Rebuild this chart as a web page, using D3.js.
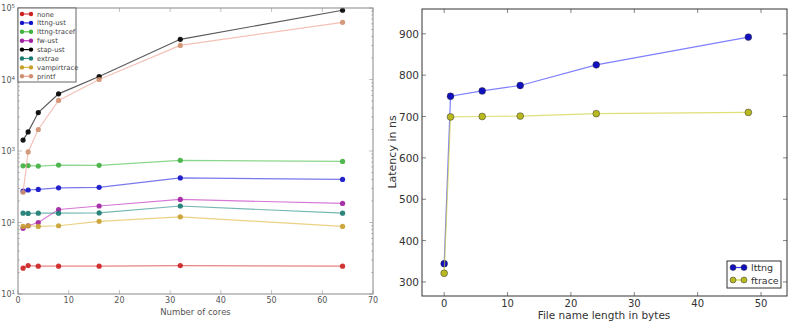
<!DOCTYPE html>
<html>
<head>
<meta charset="utf-8">
<title>Tracer latency</title>
<style>
  body { margin: 0; background: #fff; }
  svg { font-family: "DejaVu Sans", sans-serif; }
  .frame { fill: none; }
  .line { fill: none; stroke-width: 1.2px; stroke-opacity: 0.65; }
</style>
</head>
<body>
<svg width="788" height="322"></svg>
<script src="https://d3js.org/d3.v7.min.js"></script>
<script>
// left chart: latency vs number of cores (log scale)
const cores = [1, 2, 4, 8, 16, 32, 64];
const none = [23, 25, 24.5, 24.5, 24.5, 25, 24.5];
const lttngUst = [275, 285, 290, 305, 310, 420, 400];
const lttngTracef = [620, 625, 615, 635, 630, 740, 715];
const fwUst = [83, 90, 100, 152, 170, 210, 185];
const stapUst = [1420, 1850, 3450, 6300, 11000, 36500, 93000];
const extrae = [135, 134, 135, 135, 136, 170, 135];
const vampirtrace = [88, 90, 88, 90, 104, 120, 88];
const printf = [265, 970, 2000, 5100, 10000, 30000, 63000];
const coreTicks = [0, 10, 20, 30, 40, 50, 60, 70];

// right chart: latency vs file name length
const nameLength = [0, 1, 6, 12, 24, 48];
const lttng = [344, 749, 762, 775, 825, 892];
const ftrace = [321, 699, 700, 701, 707, 710];
const lengthTicks = [0, 10, 20, 30, 40, 50];
const latencyTicks = [300, 400, 500, 600, 700, 800, 900];

const svg = d3.select("svg");

// ---------- left ----------
const L = { x0: 18, x1: 373, y0: 8, y1: 294 };
const xL = d3.scaleLinear().domain([0, 70]).range([L.x0, L.x1]);
const yL = d3.scaleLog().domain([10, 100000]).range([L.y1, L.y0]);

const leftSeries = [
  { name: "none", values: none, color: "#cc2020", line: "#e04040" },
  { name: "lttng-ust", values: lttngUst, color: "#1010c8", line: "#3030e0" },
  { name: "lttng-tracef", values: lttngTracef, color: "#40b040", line: "#50c050" },
  { name: "fw-ust", values: fwUst, color: "#a020a0", line: "#c030c0" },
  { name: "stap-ust", values: stapUst, color: "#000000", line: "#000000" },
  { name: "extrae", values: extrae, color: "#1a7a70", line: "#2a9088" },
  { name: "vampirtrace", values: vampirtrace, color: "#c8a030", line: "#e0b840" },
  { name: "printf", values: printf, color: "#d09070", line: "#f0a090" }
];

const gL = svg.append("g");

// minor log ticks on both sides
const minor = [];
for (let e = 1; e < 5; e++) for (let m = 2; m < 10; m++) minor.push(m * Math.pow(10, e));
gL.selectAll(".minL").data(minor).join("line")
  .attr("x1", L.x0).attr("x2", L.x0 + 2)
  .attr("y1", d => yL(d)).attr("y2", d => yL(d))
  .attr("stroke", "#999").attr("stroke-width", 0.6);
gL.selectAll(".minR").data(minor).join("line")
  .attr("x1", L.x1).attr("x2", L.x1 - 2)
  .attr("y1", d => yL(d)).attr("y2", d => yL(d))
  .attr("stroke", "#999").attr("stroke-width", 0.6);
const major = [10, 100, 1000, 10000, 100000];
gL.selectAll(".majL").data(major).join("line")
  .attr("x1", L.x0).attr("x2", L.x0 + 4)
  .attr("y1", d => yL(d)).attr("y2", d => yL(d))
  .attr("stroke", "#999").attr("stroke-width", 0.6);
gL.selectAll(".majR").data(major).join("line")
  .attr("x1", L.x1).attr("x2", L.x1 - 4)
  .attr("y1", d => yL(d)).attr("y2", d => yL(d))
  .attr("stroke", "#999").attr("stroke-width", 0.6);
gL.selectAll(".xtB").data(coreTicks).join("line")
  .attr("x1", d => xL(d)).attr("x2", d => xL(d))
  .attr("y1", L.y1).attr("y2", L.y1 - 4)
  .attr("stroke", "#999").attr("stroke-width", 0.6);
gL.selectAll(".xtT").data(coreTicks).join("line")
  .attr("x1", d => xL(d)).attr("x2", d => xL(d))
  .attr("y1", L.y0).attr("y2", L.y0 + 4)
  .attr("stroke", "#999").attr("stroke-width", 0.6);

// y tick labels 10^n
const ylab = gL.selectAll(".ylab").data(major).join("text")
  .attr("x", 15).attr("y", d => yL(d) + 3)
  .attr("text-anchor", "end").attr("font-size", 8).attr("fill", "#555");
ylab.append("tspan").text("10");
ylab.append("tspan").attr("dy", -3).attr("font-size", 5.5).text(d => Math.round(Math.log10(d)));

gL.selectAll(".xlab").data(coreTicks).join("text")
  .attr("x", d => xL(d)).attr("y", L.y1 + 9)
  .attr("text-anchor", "middle").attr("font-size", 8).attr("fill", "#555")
  .text(d => d);

gL.append("text").attr("x", (L.x0 + L.x1) / 2).attr("y", 315)
  .attr("text-anchor", "middle").attr("font-size", 8.5).attr("fill", "#555")
  .text("Number of cores");

const lineL = d3.line().x((d, i) => xL(cores[i])).y(d => yL(d));
leftSeries.forEach(s => {
  gL.append("path").attr("class", "line").attr("d", lineL(s.values))
    .attr("stroke", s.line);
  gL.selectAll(null).data(s.values).join("circle")
    .attr("cx", (d, i) => xL(cores[i])).attr("cy", d => yL(d))
    .attr("r", 2.6).attr("fill", s.color).attr("fill-opacity", 0.9);
});

gL.append("rect").attr("class", "frame")
  .attr("x", L.x0).attr("y", L.y0).attr("width", L.x1 - L.x0).attr("height", L.y1 - L.y0)
  .attr("stroke", "#888").attr("stroke-width", 1);

// left legend
const legL = gL.append("g");
legL.append("rect").attr("x", L.x0).attr("y", L.y0).attr("width", 58).attr("height", 74)
  .attr("fill", "#fff").attr("stroke", "#666").attr("stroke-width", 1);
leftSeries.forEach((s, i) => {
  const y = 14 + i * 8.9;
  legL.append("line").attr("x1", 22).attr("x2", 31).attr("y1", y).attr("y2", y)
    .attr("stroke", s.line).attr("stroke-width", 1.2);
  legL.selectAll(null).data([22, 31]).join("circle")
    .attr("cx", d => d).attr("cy", y).attr("r", 2.2).attr("fill", s.color);
  legL.append("text").attr("x", 37).attr("y", y + 2.5).attr("font-size", 6.8)
    .attr("fill", "#444").text(s.name);
});

// ---------- right ----------
const R = { x0: 422, x1: 787, y0: 9, y1: 296 };
const xR = d3.scaleLinear().domain([-3.5, 54.1]).range([R.x0, R.x1]);
const yR = d3.scaleLinear().domain([266, 960]).range([R.y1, R.y0]);
const gR = svg.append("g");

gR.selectAll(".ytR").data(latencyTicks).join("line")
  .attr("x1", R.x0).attr("x2", R.x0 + 4)
  .attr("y1", d => yR(d)).attr("y2", d => yR(d))
  .attr("stroke", "#333").attr("stroke-width", 0.6);
gR.selectAll(".ytR2").data(latencyTicks).join("line")
  .attr("x1", R.x1).attr("x2", R.x1 - 4)
  .attr("y1", d => yR(d)).attr("y2", d => yR(d))
  .attr("stroke", "#333").attr("stroke-width", 0.6);
gR.selectAll(".xtR").data(lengthTicks).join("line")
  .attr("x1", d => xR(d)).attr("x2", d => xR(d))
  .attr("y1", R.y1).attr("y2", R.y1 - 4)
  .attr("stroke", "#333").attr("stroke-width", 0.6);
gR.selectAll(".xtR2").data(lengthTicks).join("line")
  .attr("x1", d => xR(d)).attr("x2", d => xR(d))
  .attr("y1", R.y0).attr("y2", R.y0 + 4)
  .attr("stroke", "#333").attr("stroke-width", 0.6);

gR.selectAll(".ylabR").data(latencyTicks).join("text")
  .attr("x", R.x0 - 3).attr("y", d => yR(d) + 4)
  .attr("text-anchor", "end").attr("font-size", 10.5).attr("fill", "#333")
  .text(d => d);
gR.selectAll(".xlabR").data(lengthTicks).join("text")
  .attr("x", d => xR(d)).attr("y", R.y1 + 11)
  .attr("text-anchor", "middle").attr("font-size", 10).attr("fill", "#333")
  .text(d => d);

gR.append("text").attr("x", 604).attr("y", 318.5)
  .attr("text-anchor", "middle").attr("font-size", 10.5).attr("fill", "#333")
  .text("File name length in bytes");
gR.append("text").attr("transform", "translate(396,152) rotate(-90)")
  .attr("text-anchor", "middle").attr("font-size", 11).attr("fill", "#333")
  .text("Latency in ns");

const rightSeries = [
  { name: "lttng", values: lttng, color: "#1010c0", line: "#3a3aff" },
  { name: "ftrace", values: ftrace, color: "#b8b820", line: "#d0d030" }
];
const lineR = d3.line().x((d, i) => xR(nameLength[i])).y(d => yR(d));
rightSeries.forEach(s => {
  gR.append("path").attr("class", "line").attr("d", lineR(s.values))
    .attr("stroke", s.line).attr("stroke-opacity", 0.8);
  gR.selectAll(null).data(s.values).join("circle")
    .attr("cx", (d, i) => xR(nameLength[i])).attr("cy", d => yR(d))
    .attr("r", 3.4).attr("fill", s.color).attr("stroke", "#333").attr("stroke-width", 0.5);
});

gR.append("rect").attr("class", "frame")
  .attr("x", R.x0).attr("y", R.y0).attr("width", R.x1 - R.x0).attr("height", R.y1 - R.y0)
  .attr("stroke", "#333").attr("stroke-width", 1);

const legR = gR.append("g");
legR.append("rect").attr("x", 727).attr("y", 261).attr("width", 54).attr("height", 27)
  .attr("fill", "#fff").attr("stroke", "#333").attr("stroke-width", 1);
rightSeries.forEach((s, i) => {
  const y = 267.5 + i * 12.5;
  legR.append("line").attr("x1", 733).attr("x2", 744).attr("y1", y).attr("y2", y)
    .attr("stroke", s.line).attr("stroke-width", 1.2);
  legR.selectAll(null).data([733, 744]).join("circle")
    .attr("cx", d => d).attr("cy", y).attr("r", 3).attr("fill", s.color)
    .attr("stroke", "#333").attr("stroke-width", 0.5);
  legR.append("text").attr("x", 751).attr("y", y + 3.5).attr("font-size", 9.5)
    .attr("fill", "#333").text(s.name);
});
</script>
</body>
</html>
